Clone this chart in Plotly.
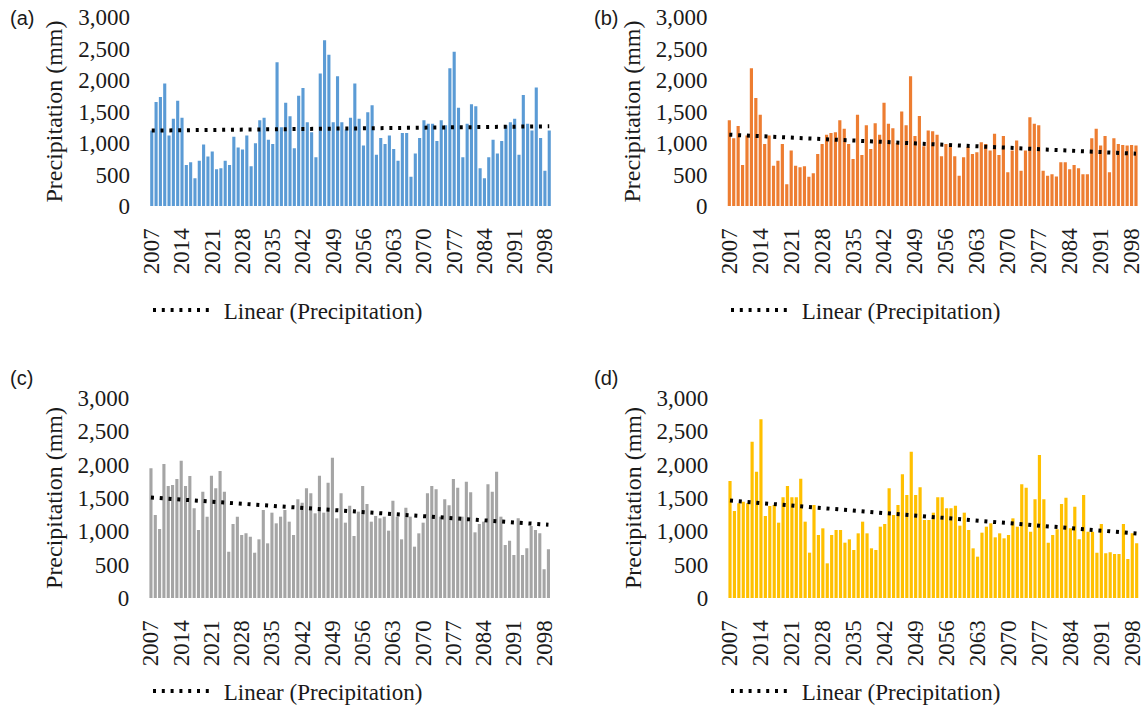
import numpy as np
import plotly.graph_objects as go

years = list(range(2007, 2100))
tick_years = years[::7]

precip_a = [1200, 1650, 1730, 1945, 1120, 1385, 1670, 1400, 650, 695,
            440, 720, 975, 785, 865, 585, 600, 720, 650, 1100,
            930, 895, 1120, 630, 995, 1360, 1400, 1050, 985, 2280,
            1250, 1640, 1425, 915, 1750, 1875, 1330, 1170, 775, 2105,
            2630, 2400, 1330, 2060, 1330, 1215,
            1400, 1945, 1386, 960, 1490, 1600, 815, 1080, 985, 1120,
            905, 720, 1160, 1160, 465, 835, 1080, 1360, 1305, 1305,
            1030, 1360, 1280, 2185, 2450, 1560, 775, 1305, 1615, 1585,
            600, 440, 775, 1050, 835, 1030, 1280, 1330, 1385, 815,
            1760, 1305, 1200, 1880, 1080, 560, 1200]

precip_b = [1360, 1075, 1270, 650, 1120, 2185, 1715, 1450, 985, 1120,
            640, 720, 985, 345, 880, 640, 615, 630, 465, 520,
            825, 985, 1130, 1160, 1170, 1360, 1225, 985, 745, 1450,
            810, 1280, 905, 1315, 1130, 1640, 1305, 1235, 1000, 1500,
            1280, 2060, 1110, 1430, 950, 1200,
            1185, 1130, 790, 985, 985, 790, 480, 775, 935, 825,
            855, 1010, 985, 880, 1145, 810, 1110, 535, 880, 1040,
            560, 880, 1410, 1305, 1280, 560, 480, 505, 470, 695,
            695, 585, 650, 600, 505, 505, 1075, 1225, 960, 1110,
            535, 1075, 985, 970, 960, 970, 960]

precip_c = [1945, 1245, 1035, 2010, 1680, 1695, 1785, 2060, 1680, 1830,
            1345, 1020, 1595, 1220, 1835, 1645, 1905, 1595, 695, 1110,
            1220, 945, 970, 920, 680, 880, 1320, 820, 1280, 1120,
            1220, 1320, 1145, 945, 1480, 1430, 1645, 1570, 1270, 1835,
            1280, 1730, 2105, 1195, 1570, 1130,
            1385, 930, 1295, 1680, 1410, 1145, 1230, 1195, 1220, 1010,
            1460, 1220, 880, 1355, 1220, 770, 970, 1130, 1570, 1680,
            1630, 1220, 1480, 1390, 1785, 1655, 1220, 1745, 1585, 985,
            1110, 1145, 1705, 1595, 1895, 1220, 795, 860, 645, 1195,
            645, 745, 1080, 1020, 970, 430, 730]

precip_d = [1755, 1305, 1420, 1445, 1420, 2345, 1895, 2680, 1230, 1380,
            1395, 1130, 1510, 1680, 1510, 1510, 1790, 1145, 680, 1395,
            945, 1045, 520, 945, 1020, 1020, 830, 880, 720, 970,
            1145, 970, 745, 720, 1070, 1110, 1645, 1245, 1395, 1855,
            1545, 2195, 1545, 1660, 1170, 1170,
            1280, 1510, 1510, 1345, 1345, 1385, 1085, 1280, 1020, 745,
            620, 980, 1070, 1120, 910, 970, 895, 945, 1195, 1070,
            1705, 1655, 995, 1480, 2145, 1480, 830, 945, 1030, 1410,
            1505, 1045, 1370, 880, 1545, 995, 995, 680, 1110, 670,
            685, 660, 660, 1110, 585, 970, 820]

panel_labels = ["(a)", "(b)", "(c)", "(d)"]
series = [precip_a, precip_b, precip_c, precip_d]
colors = ["#5B9BD5", "#ED7D31", "#A5A5A5", "#FFC000"]

W, H = 1144, 715
# target pixel boxes of plot areas in the window: (left, right, top, bottom)
boxes = [(149.6, 551.4, 17, 206), (727.1, 1138.2, 17, 206),
         (148.8, 550.6, 398, 598), (727.8, 1138.9, 398, 598)]
legend_pos = [(148, 310), (726, 310), (148, 691), (726, 691)]
label_pos = [(8, 18), (592, 18), (8, 378), (592, 378)]


def px(x):
    return x / W


def py(y):
    return 1 - y / H


SERIF = "Liberation Serif"
TXT = "#1a1a1a"

fig = go.Figure()
layout = dict(width=W, height=H, margin=dict(l=0, r=0, t=0, b=0),
              plot_bgcolor="white", paper_bgcolor="white",
              bargap=0.28, annotations=[])

for i, (vals, col) in enumerate(zip(series, colors)):
    sfx = "" if i == 0 else str(i + 1)
    xa, ya = "x" + sfx, "y" + sfx
    leg = "legend" + sfx
    fig.add_trace(go.Bar(x=years, y=vals, marker=dict(color=col, line=dict(width=0)),
                         showlegend=False, xaxis=xa, yaxis=ya))
    slope, icpt = np.polyfit(years, vals, 1)
    xs = [years[0], years[-1]]
    fig.add_trace(go.Scatter(x=xs, y=[slope * x + icpt for x in xs], mode="lines",
                             line=dict(color="black", width=4, dash="3px,5.8px"),
                             name="\u00a0Linear (Precipitation)", legend=leg,
                             xaxis=xa, yaxis=ya))
    l, r, t, b = boxes[i]
    layout["xaxis" + sfx] = dict(domain=[px(l), px(r)], anchor=ya, range=[2006.5, 2099.5],
                                 automargin=False, ticklabeloverflow="allow",
                                 tickvals=tick_years, ticktext=[str(y) for y in tick_years],
                                 tickangle=-90, showgrid=False, zeroline=False, showline=False,
                                 ticks="outside", ticklen=12, tickcolor="rgba(0,0,0,0)",
                                 tickfont=dict(family=SERIF, size=23, color=TXT))
    layout["yaxis" + sfx] = dict(domain=[py(b), py(t)], anchor=xa, range=[0, 3000],
                                 automargin=False, ticklabeloverflow="allow",
                                 dtick=500, tickformat=",", showgrid=False, zeroline=False,
                                 showline=False, ticks="outside", ticklen=14,
                                 tickcolor="rgba(0,0,0,0)",
                                 tickfont=dict(family=SERIF, size=23, color=TXT),
                                 title=dict(text="Precipitation (mm)", standoff=8,
                                            font=dict(family=SERIF, size=24, color=TXT)))
    lx, ly = legend_pos[i]
    layout[leg] = dict(x=px(lx), y=py(ly), xanchor="left", yanchor="middle",
                       orientation="h", bgcolor="rgba(0,0,0,0)", itemwidth=60,
                       font=dict(family=SERIF, size=23, color=TXT))
    ax_, ay_ = label_pos[i]
    layout["annotations"].append(dict(text=panel_labels[i], x=px(ax_), y=py(ay_),
                                      xref="paper", yref="paper", xanchor="left",
                                      yanchor="middle", showarrow=False,
                                      font=dict(family="Liberation Sans", size=20, color=TXT)))

fig.update_layout(**layout)
# remove the browser's default 8px page margin so the figure fills the window exactly
fig.write_html("out.html",
               config={"displayModeBar": False},
               post_script="document.body.style.margin='0px';"
                           "document.body.style.overflow='hidden';")
